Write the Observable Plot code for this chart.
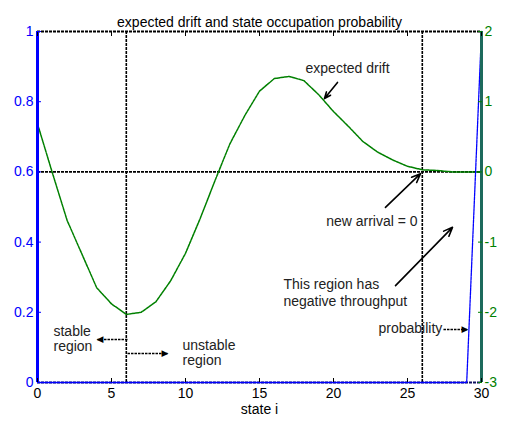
<!DOCTYPE html>
<html><head><meta charset="utf-8">
<script src="https://cdn.jsdelivr.net/npm/d3@7"></script>
<script src="https://cdn.jsdelivr.net/npm/@observablehq/plot@0.6"></script>
<style>
body{margin:0;background:#fff}
svg{font-family:"Liberation Sans",Arial,Helvetica,sans-serif}
</style>
</head><body><div id="chart"></div>
<script>
const titleText = "expected drift and state occupation probability";
const xLabel = "state i";
const stateI = [0,1,2,3,4,5,6,7,8,9,10,11,12,13,14,15,16,17,18,19,20,21,22,23,24,25,26,27,28,29,30];
const drift = [0.685,-0.01,-0.69,-1.17,-1.65,-1.88,-2.03,-2.00,-1.85,-1.55,-1.16,-0.66,-0.12,0.40,0.80,1.15,1.33,1.36,1.30,1.10,0.86,0.65,0.43,0.28,0.17,0.08,0.03,0.02,0.0,0.0,0.0];
const probability = [0,0,0,0,0,0,0,0,0,0,0,0,0,0,0,0,0,0,0,0,0,0,0,0,0,0,0,0,0,0,1];
const boundaries = [6, 26];
const xTicks = [0,5,10,15,20,25,30];
const leftTicks = [0,0.2,0.4,0.6,0.8,1];
const leftTickLabels = ["0","0.2","0.4","0.6","0.8","1"];
const rightTicks = [-3,-2,-1,0,1,2];
const rightTickLabels = ["-3","-2","-1","0","1","2"];
const rightDomain = [-3, 2];

// annotation texts (anchored in data units)
const noteText = ["expected drift","new arrival = 0","This region has","negative throughput","probability","stable","region","unstable","region"];
const noteX    = [18.11, 25.68, 16.62, 16.62, 23.04, 1.08, 1.08, 9.80, 9.80];
const noteY    = [0.895, 0.459, 0.279, 0.231, 0.154, 0.145, 0.103, 0.105, 0.063];
const noteAnchor = ["start","end","start","start","start","start","start","start","start"];

// solid arrows
const arrowX1 = [20.27, 23.51, 24.19];
const arrowY1 = [0.855, 0.499, 0.276];
const arrowX2 = [19.39, 25.88, 28.04];
const arrowY2 = [0.809, 0.595, 0.442];
// dotted arrows
const dArrowX1 = [27.43, 6.08, 6.08];
const dArrowX2 = [29.05, 4.05, 8.78];
const dArrowY  = [0.151, 0.1225, 0.0826];

const toLeft = d => (d - rightDomain[0]) / (rightDomain[1] - rightDomain[0]);

const driftData = stateI.map((s, i) => ({s, v: toLeft(drift[i])}));
const probData = stateI.map((s, i) => ({s, p: probability[i]}));
const notes = noteText.map((t, i) => ({t, x: noteX[i], y: noteY[i], a: noteAnchor[i]}));
const arrows = arrowX1.map((x1, i) => ({x1, y1: arrowY1[i], x2: arrowX2[i], y2: arrowY2[i]}));
const dArrows = dArrowX1.map((x1, i) => ({x1, x2: dArrowX2[i], y: dArrowY[i]}));

const blue = "#0000ff", green = "#008000";
const dot = "3,1";

const chart = Plot.plot({
  width: 510, height: 421,
  marginLeft: 37, marginRight: 29, marginTop: 31, marginBottom: 39,
  style: {fontSize: "14px", fontFamily: '"Liberation Sans",Arial,sans-serif', background: "white", color: "black"},
  x: {domain: [0, 30], axis: null},
  y: {domain: [0, 1], axis: null},
  marks: [
    Plot.ruleX(boundaries, {x: d => d, stroke: "black", strokeWidth: 1.6, strokeDasharray: dot}),
    Plot.ruleY([0], {y: d => toLeft(d), stroke: "black", strokeWidth: 1.6, strokeDasharray: dot}),
    Plot.ruleY([1], {y: d => d, stroke: "black", strokeWidth: 2, strokeDasharray: dot}),
    Plot.ruleY([0], {y: d => d, stroke: "#101060", strokeWidth: 2, strokeDasharray: dot}),
    Plot.line(driftData, {x: "s", y: "v", stroke: green, strokeWidth: 1.5, strokeDasharray: "3,0.8"}),
    Plot.line(probData, {x: "s", y: "p", stroke: blue, strokeWidth: 1.3, strokeDasharray: "3,0.8"}),
    Plot.ruleX([0], {x: d => d, stroke: blue, strokeWidth: 3}),
    Plot.ruleX([30], {x: d => d, stroke: "#1d6a5c", strokeWidth: 3}),
    Plot.axisX({anchor: "bottom", ticks: xTicks, tickSize: -4, tickPadding: 10, tickFormat: d => String(d), fontSize: 14}),
    Plot.axisX({anchor: "top", ticks: xTicks, tickSize: -4, tickFormat: () => null}),
    Plot.axisY({anchor: "left", ticks: leftTicks, tickSize: -4, tickPadding: 8, color: blue,
      tickFormat: d => leftTickLabels[leftTicks.indexOf(d)], fontSize: 14}),
    Plot.axisY({anchor: "right", ticks: rightTicks.map(toLeft), tickSize: -4, tickPadding: 7, color: green,
      tickFormat: (d, i) => rightTickLabels[i], fontSize: 14}),
    Plot.text([titleText], {frameAnchor: "top", dy: -14, fontSize: 14, fill: "black"}),
    Plot.text([xLabel], {frameAnchor: "bottom", dy: 31, fontSize: 14, fill: "black"}),
    Plot.text(notes.filter(d => d.a === "start"), {x: "x", y: "y", text: "t", textAnchor: "start", fontSize: 14, fill: "#222"}),
    Plot.text(notes.filter(d => d.a === "end"), {x: "x", y: "y", text: "t", textAnchor: "end", fontSize: 14, fill: "#222"}),
    Plot.arrow(arrows, {x1: "x1", y1: "y1", x2: "x2", y2: "y2", stroke: "black", strokeWidth: 1.6, headLength: 9, headAngle: 45}),
    Plot.link(dArrows, {x1: "x1", x2: "x2", y1: "y", y2: "y", stroke: "black", strokeWidth: 1.6, strokeDasharray: "2.5,1"}),
    Plot.text(dArrows.filter(d => d.x2 > d.x1), {x: "x2", y: "y", text: () => "\u25B6", textAnchor: "end", dx: 1, fontSize: 9, fontFamily: "DejaVu Sans", fill: "black"}),
    Plot.text(dArrows.filter(d => d.x2 < d.x1), {x: "x2", y: "y", text: () => "\u25C0", textAnchor: "start", dx: -1, fontSize: 9, fontFamily: "DejaVu Sans", fill: "black"})
  ]
});
document.getElementById("chart").appendChild(chart);
</script>
</body></html>
